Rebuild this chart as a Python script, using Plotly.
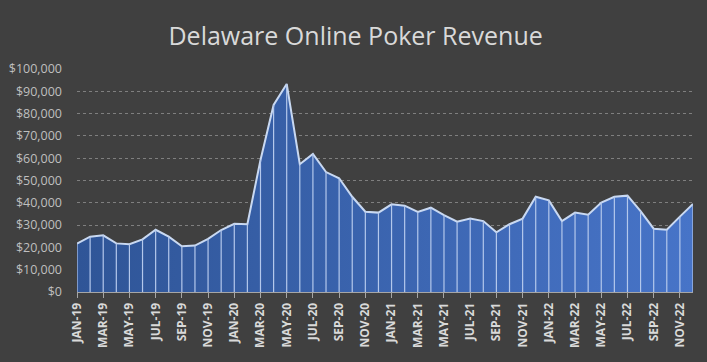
import plotly.graph_objects as go

months = ["JAN", "FEB", "MAR", "APR", "MAY", "JUN", "JUL", "AUG", "SEP", "OCT", "NOV", "DEC"]
years = ["19", "20", "21", "22"]
categories = [f"{m}-{y}" for y in years for m in months]

revenue = [
    21700, 24800, 25400, 21800, 21400, 23600, 27900, 24800, 20500, 20800, 23800, 27800,
    30600, 30400, 59200, 83900, 93300, 57300, 61900, 53800, 51000, 42700, 36000, 35600,
    39300, 38700, 35900, 37800, 34500, 31500, 33000, 31800, 26800, 30400, 32900, 42700,
    41100, 31800, 35600, 34700, 40100, 42700, 43200, 36300, 28400, 27900, 33800, 39500,
]

tick_labels = categories[::2]
y_ticks = [0, 10000, 20000, 30000, 40000, 50000, 60000, 70000, 80000, 90000, 100000]
y_tick_text = [f"${v:,}" for v in y_ticks]

fig = go.Figure()
fig.add_trace(go.Scatter(
    x=categories, y=revenue, mode="lines",
    fill="tozeroy",
    fillgradient=dict(type="horizontal", colorscale=[[0, "#2F5597"], [1, "#4774C8"]]),
    line=dict(color="#C9D9F2", width=2),
    hoverinfo="x+y",
))

# drop lines from each point to the axis
dx, dy = [], []
for c, v in zip(categories, revenue):
    dx += [c, c, None]
    dy += [0, v, None]
fig.add_trace(go.Scatter(x=dx, y=dy, mode="lines",
                         line=dict(color="#B4C8EC", width=1.2), hoverinfo="skip"))

fig.update_layout(
    width=707, height=362,
    paper_bgcolor="#404040", plot_bgcolor="#404040",
    showlegend=False,
    margin=dict(l=77, r=14, t=69, b=70),
    title=dict(text="Delaware Online Poker Revenue", x=0.503, xanchor="center",
               y=0.9, yanchor="middle",
               font=dict(family="Open Sans", size=25, color="#D9D9D9")),
    xaxis=dict(
        type="category", range=[0, len(categories) - 1], automargin=False,
        tickmode="array", tickvals=tick_labels, ticktext=[f"<b>{t}</b>" for t in tick_labels],
        tickangle=-90, tickfont=dict(family="Open Sans", size=12, color="#D9D9D9"),
        showgrid=False, showline=True, linecolor="#A6A6A6", linewidth=1,
        ticks="outside", ticklen=5, tickcolor="#A6A6A6", zeroline=False,
    ),
    yaxis=dict(
        range=[0, 100000], tickmode="array", tickvals=y_ticks, ticktext=y_tick_text,
        automargin=False,
        tickfont=dict(family="Open Sans", size=12.5, color="#BFBFBF"),
        showgrid=True, gridcolor="#7F7F7F", griddash="dot", gridwidth=1,
        zeroline=False, showline=False, ticks="", ticklabelstandoff=14,
    ),
)

fig.write_html("out.html", config={"displayModeBar": False})

with open("out.html", encoding="utf-8") as f:
    html = f.read()
html = html.replace("<body>", '<body style="margin:0;background:#404040;">', 1)
with open("out.html", "w", encoding="utf-8") as f:
    f.write(html)
